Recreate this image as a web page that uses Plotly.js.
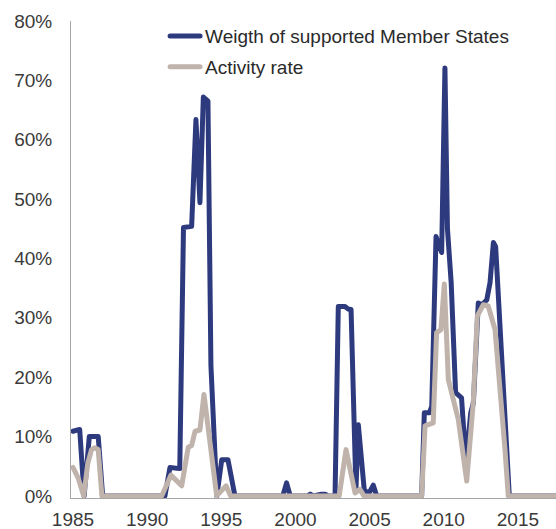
<!DOCTYPE html>
<html>
<head>
<meta charset="utf-8">
<script src="https://cdn.plot.ly/plotly-3.0.1.min.js"></script>
<style>html,body{margin:0;padding:0;background:#fff;}#chart{width:556px;height:529px;}
path.js-line{stroke-linejoin:round !important;stroke-linecap:round !important;}</style>
</head>
<body>
<div id="chart"></div>
<script>
// Series names
var seriesNames = ["Weigth of supported Member States", "Activity rate"];

// Weight of supported Member States (%)
var weightX = [1985.0, 1985.45, 1985.75, 1986.1, 1986.7, 1987.0, 1991.2, 1991.54, 1992.2, 1992.45, 1993.0, 1993.29, 1993.56, 1993.79, 1994.1, 1994.3, 1994.7, 1995.03, 1995.45, 1995.92, 1999.15, 1999.4, 1999.65, 2000.8, 2001.0, 2001.2, 2001.75, 2002.0, 2002.2, 2002.67, 2002.89, 2003.34, 2003.54, 2003.75, 2004.08, 2004.24, 2004.64, 2004.95, 2005.25, 2005.48, 2008.51, 2008.69, 2009.03, 2009.19, 2009.48, 2009.86, 2010.08, 2010.25, 2010.5, 2010.8, 2011.2, 2011.5, 2011.82, 2012.0, 2012.33, 2012.56, 2012.9, 2013.12, 2013.35, 2013.5, 2014.42, 2017.75];
var weightY = [10.9, 11.2, 0, 10, 10, 0, 0, 4.8, 4.6, 45.2, 45.4, 63.4, 49.4, 67.2, 66.5, 22, 0, 6.1, 6.1, 0, 0, 2.2, 0, 0, 0.3, 0, 0.3, 0.3, 0, 0, 31.9, 31.9, 31.5, 31.4, 1, 12, 1, 0.4, 1.8, 0, 0, 14, 14, 15.1, 43.7, 41, 72.1, 45, 36, 17.4, 16.5, 5.6, 14, 15.7, 32.5, 32.2, 33, 35.9, 42.7, 42, 0, 0];

// Activity rate (%)
var activityX = [1985.0, 1985.35, 1985.72, 1986.0, 1986.25, 1986.45, 1986.7, 1986.95, 1990.98, 1991.6, 1992.33, 1992.77, 1993.0, 1993.23, 1993.56, 1993.83, 1994.69, 1995.32, 1995.63, 2002.95, 2003.41, 2004.02, 2004.35, 2004.62, 2008.51, 2008.74, 2009.29, 2009.52, 2009.81, 2010.04, 2010.31, 2010.98, 2011.55, 2011.99, 2012.26, 2012.67, 2013.0, 2013.46, 2014.13, 2014.35, 2017.75];
var activityY = [4.8, 3, 0, 5.5, 7.8, 8.1, 7.8, 0, 0, 3.5, 1.7, 8.2, 8.5, 10.9, 11.1, 17.1, 0, 1.7, 0, 0, 7.8, 0.5, 1.1, 0, 0, 11.8, 12.3, 27.5, 28, 35.7, 19.6, 12.9, 2.5, 15.7, 30.3, 32.2, 32, 28, 7.8, 0, 0];

// Axis ticks
var xTicks = [1985, 1990, 1995, 2000, 2005, 2010, 2015];
var yTicks = [0, 10, 20, 30, 40, 50, 60, 70, 80];

var traces = [
  {x: weightX, y: weightY, name: seriesNames[0], type: "scatter", mode: "lines",
   line: {color: "#2E3A7E", width: 5}, legendgroup: "a"},
  {x: activityX, y: activityY, name: seriesNames[1], type: "scatter", mode: "lines",
   line: {color: "#BFB3AC", width: 5}, legendgroup: "b"}
];

var layout = {
  width: 556, height: 529,
  margin: {l: 71, r: 0, t: 21, b: 31, pad: 0},
  paper_bgcolor: "#fff", plot_bgcolor: "#fff",
  font: {family: "Liberation Sans, Arial, sans-serif", size: 19, color: "#3a3a3a"},
  showlegend: true,
  legend: {x: 0.194, y: 1.008, xanchor: "left", yanchor: "top", bgcolor: "rgba(0,0,0,0)",
           font: {size: 19, color: "#2a2a2a"}, tracegroupgap: 3},
  xaxis: {range: [1984.865, 2017.57], tickvals: xTicks, ticktext: xTicks.map(String),
          showgrid: false, zeroline: false, showline: true, linecolor: "#A6A6A6", linewidth: 1,
          ticks: "", ticklabelstandoff: 4},
  yaxis: {range: [-0.35, 80], tickvals: yTicks, ticktext: yTicks.map(function(v){return v + "%";}),
          showgrid: false, zeroline: false, showline: true, linecolor: "#A6A6A6", linewidth: 1,
          ticks: "", ticklabelstandoff: 14}
};

Plotly.newPlot("chart", traces, layout, {displayModeBar: false, staticPlot: true});
</script>
</body>
</html>
